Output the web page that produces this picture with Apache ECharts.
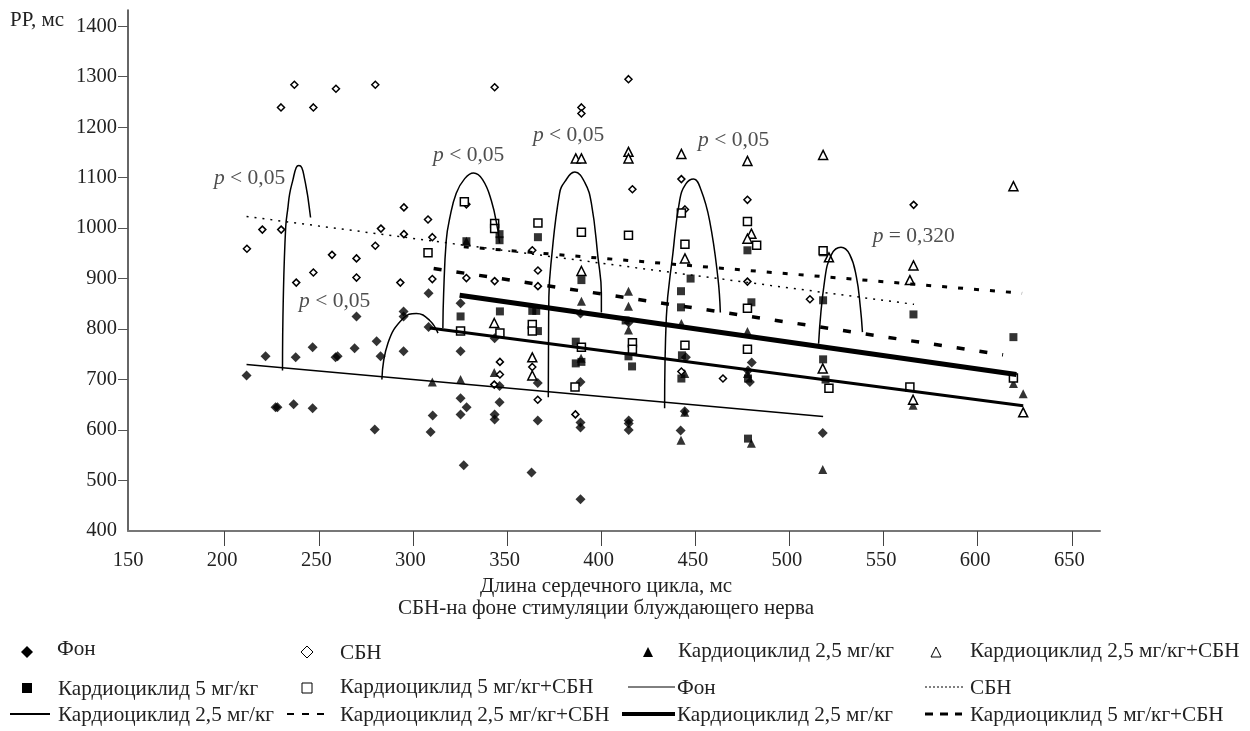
<!DOCTYPE html>
<html>
<head>
<meta charset="utf-8">
<title>PP</title>
<script src="https://cdn.jsdelivr.net/npm/echarts@6/dist/echarts.min.js"></script>
<style>
  html, body { margin: 0; padding: 0; background: #fff; }
  #chart { width: 1250px; height: 731px; }
</style>
</head>
<body>
<div id="chart"></div>
<script>
// tick labels
const xTicks = [150, 200, 250, 300, 350, 400, 450, 500, 550, 600, 650];
const yTicks = [400, 500, 600, 700, 800, 900, 1000, 1100, 1200, 1300, 1400];

// scatter points [cycle length, PP]
const fonPoints = [
  [211.6, 708], [221.7, 746], [237.7, 744], [246.7, 764], [258.9, 744], [260, 746], [269, 762],
  [280.7, 776], [282.8, 746], [295, 835], [295, 825], [295, 756], [308.3, 804], [308.3, 871],
  [270, 825], [227, 645], [228, 645], [236.6, 651], [246.7, 643], [279.7, 601], [310.5, 629],
  [309.4, 596], [325.3, 851], [325.3, 756], [325.3, 663], [325.3, 631], [328.5, 645], [327, 530],
  [346, 687], [346, 655], [343.4, 631], [343.4, 621], [343.4, 782], [363, 516], [366.3, 693],
  [366.3, 619], [389, 695], [389, 615], [389, 605], [389, 463], [389, 831], [414.6, 619],
  [414.6, 613], [414.6, 600], [414.6, 813], [444.4, 637], [442.2, 599], [480, 734], [478, 718],
  [479, 695], [517.7, 594], [445, 744]
];
const sbnPoints = [
  [237, 1284], [259.1, 1276], [280, 1284], [229.9, 1239], [247.1, 1239], [295.2, 1041], [295.2, 988],
  [308, 1017], [283, 999], [220, 997], [230, 997], [211.8, 959], [280, 965], [257, 947], [270, 940],
  [270, 902], [247.1, 912], [238, 892], [293.3, 892], [343.4, 1279], [414.5, 1295], [389.5, 1239],
  [389.5, 1227], [416.6, 1077], [310.3, 982], [310.3, 899], [328.4, 901], [328.4, 1047], [343.4, 895],
  [366.4, 885], [366.4, 916], [363.4, 956], [346.2, 735], [346.2, 710], [343.2, 690], [363.4, 725],
  [366.3, 660], [386.3, 631], [442.6, 1097], [442.6, 716], [444.5, 1037], [477.7, 1056], [477.7, 894],
  [510.9, 859], [464.7, 702], [566, 1046]
];
const cardio25Points = [
  [328.4, 974], [414.5, 875], [414.5, 845], [414.5, 798], [389.5, 855], [389.3, 742], [343.2, 714],
  [325.3, 700], [310.3, 695], [444.4, 635], [444.4, 712], [442.4, 580], [479.8, 574], [517.7, 522],
  [442.6, 811], [477.7, 795], [477.7, 712], [624.2, 672], [565.7, 649], [619, 692]
];
const cardio25SbnPoints = [
  [389.5, 915], [414.5, 1151], [414.5, 1138], [386.5, 1138], [389.5, 1138], [343.2, 812], [363.4, 744],
  [363.4, 708], [442.6, 1147], [477.7, 1133], [517.9, 1145], [479.8, 989], [477.7, 979], [521, 942],
  [444.5, 940], [517.7, 722], [619, 1083], [565.9, 926], [564, 897], [565.7, 660], [624.2, 635]
];
const cardio5Points = [
  [328.4, 974], [346, 988], [346, 976], [366.4, 982], [389.5, 897], [325.3, 825], [346.2, 835],
  [363.4, 836], [365.5, 836], [366.4, 796], [386.5, 775], [386.5, 732], [389.5, 735], [414.5, 746],
  [416.4, 726], [413, 817], [447.5, 900], [442.4, 875], [442.4, 843], [479.8, 853], [477.7, 956],
  [517.9, 857], [517.9, 952], [442.9, 748], [442.6, 702], [478, 702], [478, 583], [517.9, 740],
  [519.2, 700], [565.9, 829], [619, 784]
];
const cardio5SbnPoints = [
  [327.3, 1052], [343.4, 1009], [343.4, 999], [366.4, 1010], [389.5, 992], [414.5, 986], [308, 951],
  [325.3, 796], [346.2, 792], [363.4, 809], [363.4, 796], [389.5, 764], [416.6, 773], [416.6, 760],
  [386.1, 685], [444.5, 968], [442.6, 1030], [477.7, 1013], [482.6, 966], [477.7, 841], [477.7, 760],
  [517.9, 955], [444.5, 768], [521, 683], [564, 685], [619, 703]
];

// regression lines
const fonLine = [[211.6, 730], [517.9, 627]];
const sbnLine = [[211.6, 1023], [566.2, 849]];
const cardio25Line = [[308.9, 802], [624.2, 648]];
const cardio25ThickLine = [[324.8, 867], [620.6, 710]];
const cardio25SbnLine = [[311, 920], [613.5, 749]];
const cardio5SbnLine = [[327, 963], [623.6, 871]];

// brackets drawn over the groups
const arcs = [
  [[230.7, 718], [231.1, 857], [232.4, 1002], [233.6, 1041], [234.5, 1068], [236.2, 1095], [238, 1120], [239.4, 1124], [240.9, 1120], [242.4, 1098], [243.7, 1072], [244.2, 1061], [245.6, 1021]],
  [[283.5, 700], [286.7, 772], [294.7, 821], [301.8, 831], [308.9, 817], [313.3, 792]],
  [[315.9, 802], [316.3, 870], [317.7, 976], [319.5, 1019], [323, 1069], [327.5, 1098], [332.2, 1109], [337, 1096], [341.6, 1055], [345.1, 996], [346, 970]],
  [[371.9, 665], [372.2, 863], [373.5, 936], [377.9, 1069], [380.7, 1092], [386, 1111], [391.2, 1091], [394.8, 1049], [398.3, 942], [400.1, 871], [400.1, 833]],
  [[433.7, 643], [434.6, 823], [438.1, 950], [441.7, 1055], [444.9, 1087], [449.1, 1097], [453.1, 1075], [457.6, 1015], [462, 902], [463.3, 833]],
  [[515.5, 771], [518.7, 896], [522.4, 948], [527.4, 962], [532, 948], [535.6, 903], [537.7, 843], [538.8, 794]]
];
const pLabels = [
  [213.2, 1099, ' < 0,05'], [258.4, 855, ' < 0,05'], [329.6, 1144, ' < 0,05'],
  [382.7, 1184, ' < 0,05'], [470.4, 1174, ' < 0,05'], [566, 984, ' = 0,320']
];

const FONT = '"Liberation Serif", serif';
const INK = '#222';
const SYMBOL_SIZES = { diamond: 10, rect: 8, triangle: 9 };

const scatter = (name, symbol, data, filled) => ({
  name,
  type: 'scatter',
  symbol,
  symbolSize: !filled && symbol === 'diamond' ? 7 : SYMBOL_SIZES[symbol],
  data,
  itemStyle: filled
    ? { color: '#000' }
    : { color: '#fff', borderColor: '#000', borderWidth: 1.5, opacity: 1 },
  z: filled ? 2 : 3,
});

const line = (name, data, width, dash) => ({
  name,
  type: 'line',
  data,
  showSymbol: false,
  lineStyle: { color: '#000', width, type: dash || 'solid', cap: 'butt' },
  z: 4,
});

const arcSeries = arcs.map((data, i) => ({
  name: 'arc' + i,
  type: 'line',
  data,
  smooth: 0.45,
  showSymbol: false,
  lineStyle: { color: '#000', width: 1.5 },
  z: 5,
}));

// hand-built legend, the source places it on an uneven grid
const legendText = (text, x, y) => ({
  type: 'text',
  left: x,
  top: y - 9,
  style: { text, font: '21.2px ' + FONT, fill: INK },
});
const legendLine = (x1, x2, y, width, dash) => ({
  type: 'line',
  shape: { x1, y1: y, x2, y2: y },
  style: { stroke: '#000', lineWidth: width, lineDash: dash || null },
});
const legendMark = (kind, x, y, filled) => {
  const r = kind === 'diamond' ? 6 : 5;
  const pts = {
    diamond: [[x, y - r], [x + r, y], [x, y + r], [x - r, y]],
    rect: [[x - r, y - r], [x + r, y - r], [x + r, y + r], [x - r, y + r]],
    triangle: [[x, y - r], [x + r, y + r], [x - r, y + r]],
  }[kind];
  return {
    type: 'polygon',
    shape: { points: pts },
    style: filled ? { fill: '#000' } : { fill: '#fff', stroke: '#000', lineWidth: 1 },
  };
};

const legendItems = [
  legendMark('diamond', 27, 652, true), legendText('Фон', 57, 648),
  legendMark('diamond', 307, 652, false), legendText('СБН', 340, 652),
  legendMark('triangle', 648, 652, true), legendText('Кардиоциклид 2,5 мг/кг', 678, 650),
  legendMark('triangle', 936, 652, false), legendText('Кардиоциклид 2,5 мг/кг+СБН', 970, 650),
  legendMark('rect', 27, 688, true), legendText('Кардиоциклид 5 мг/кг', 58, 688),
  legendMark('rect', 307, 688, false), legendText('Кардиоциклид 5 мг/кг+СБН', 340, 686),
  legendLine(628, 675, 687, 1), legendText('Фон', 677, 687),
  legendLine(925, 965, 687, 1, [2, 2]), legendText('СБН', 970, 687),
  legendLine(10, 50, 714, 2), legendText('Кардиоциклид 2,5 мг/кг', 58, 714),
  legendLine(287, 330, 714, 2, [7, 8]), legendText('Кардиоциклид 2,5 мг/кг+СБН', 340, 714),
  legendLine(622, 675, 714, 4), legendText('Кардиоциклид 2,5 мг/кг', 677, 714),
  legendLine(925, 962, 714, 3, [8, 7]), legendText('Кардиоциклид 5 мг/кг+СБН', 970, 714),
];

const chart = echarts.init(document.getElementById('chart'), null, { renderer: 'canvas' });

chart.setOption({
  animation: false,
  backgroundColor: '#fff',
  textStyle: { fontFamily: FONT, color: INK },
  title: {
    text: 'PP, мс',
    left: 5,
    top: 5,
    textStyle: { fontFamily: FONT, fontSize: 21, fontWeight: 'normal', color: INK },
  },
  grid: { left: 128, top: 10, width: 972, height: 521 },
  xAxis: {
    type: 'value',
    min: 148.62,
    max: 665,
    name: 'Длина сердечного цикла, мс\nСБН-на фоне стимуляции блуждающего нерва',
    nameLocation: 'middle',
    nameGap: 44,
    nameTextStyle: { fontFamily: FONT, fontSize: 21, lineHeight: 22, color: INK, padding: [0, 16, 0, 0], verticalAlign: 'top' },
    splitLine: { show: false },
    axisLine: { lineStyle: { color: '#777', width: 2 } },
    axisTick: { length: 15, customValues: xTicks.slice(1), lineStyle: { color: '#444', width: 1 } },
    axisLabel: {
      customValues: xTicks,
      margin: 19,
      fontFamily: FONT,
      fontSize: 20.5,
      color: INK,
      padding: [0, 5, 0, 0],
      formatter: (v) => String(v),
    },
  },
  yAxis: {
    type: 'value',
    min: 400,
    max: 1432,
    splitLine: { show: false },
    axisLine: { lineStyle: { color: '#333', width: 1.5 } },
    axisTick: { length: 10, customValues: yTicks.slice(1), lineStyle: { color: '#555', width: 1 } },
    axisLabel: {
      customValues: yTicks,
      margin: 11,
      fontFamily: FONT,
      fontSize: 20.5,
      color: INK,
      formatter: (v) => String(v),
    },
  },
  graphic: legendItems,
  series: [
    scatter('Фон', 'diamond', fonPoints, true),
    scatter('СБН', 'diamond', sbnPoints, false),
    scatter('Кардиоциклид 2,5 мг/кг', 'triangle', cardio25Points, true),
    scatter('Кардиоциклид 2,5 мг/кг+СБН', 'triangle', cardio25SbnPoints, false),
    scatter('Кардиоциклид 5 мг/кг', 'rect', cardio5Points, true),
    scatter('Кардиоциклид 5 мг/кг+СБН', 'rect', cardio5SbnPoints, false),
    line('Фон (линия)', fonLine, 1.5),
    line('СБН (линия)', sbnLine, 1.5, [2, 6]),
    line('Кардиоциклид 2,5 мг/кг (линия)', cardio25Line, 3),
    line('Кардиоциклид 2,5 мг/кг (жирная)', cardio25ThickLine, 5),
    line('Кардиоциклид 2,5 мг/кг+СБН (линия)', cardio25SbnLine, 3.5, [8, 15]),
    line('Кардиоциклид 5 мг/кг+СБН (линия)', cardio5SbnLine, 3, [5, 11]),
    ...arcSeries,
    {
      name: 'p',
      type: 'scatter',
      symbolSize: 0,
      silent: true,
      data: pLabels,
      z: 6,
      label: {
        show: true,
        position: 'inside',
        formatter: (p) => '{i|p}{t|' + p.data[2] + '}',
        rich: {
          i: { fontFamily: FONT, fontSize: 21.5, fontStyle: 'italic', color: INK },
          t: { fontFamily: FONT, fontSize: 21.5, color: INK },
        },
      },
    },
  ],
});

window.addEventListener('resize', () => chart.resize());
</script>
</body>
</html>
